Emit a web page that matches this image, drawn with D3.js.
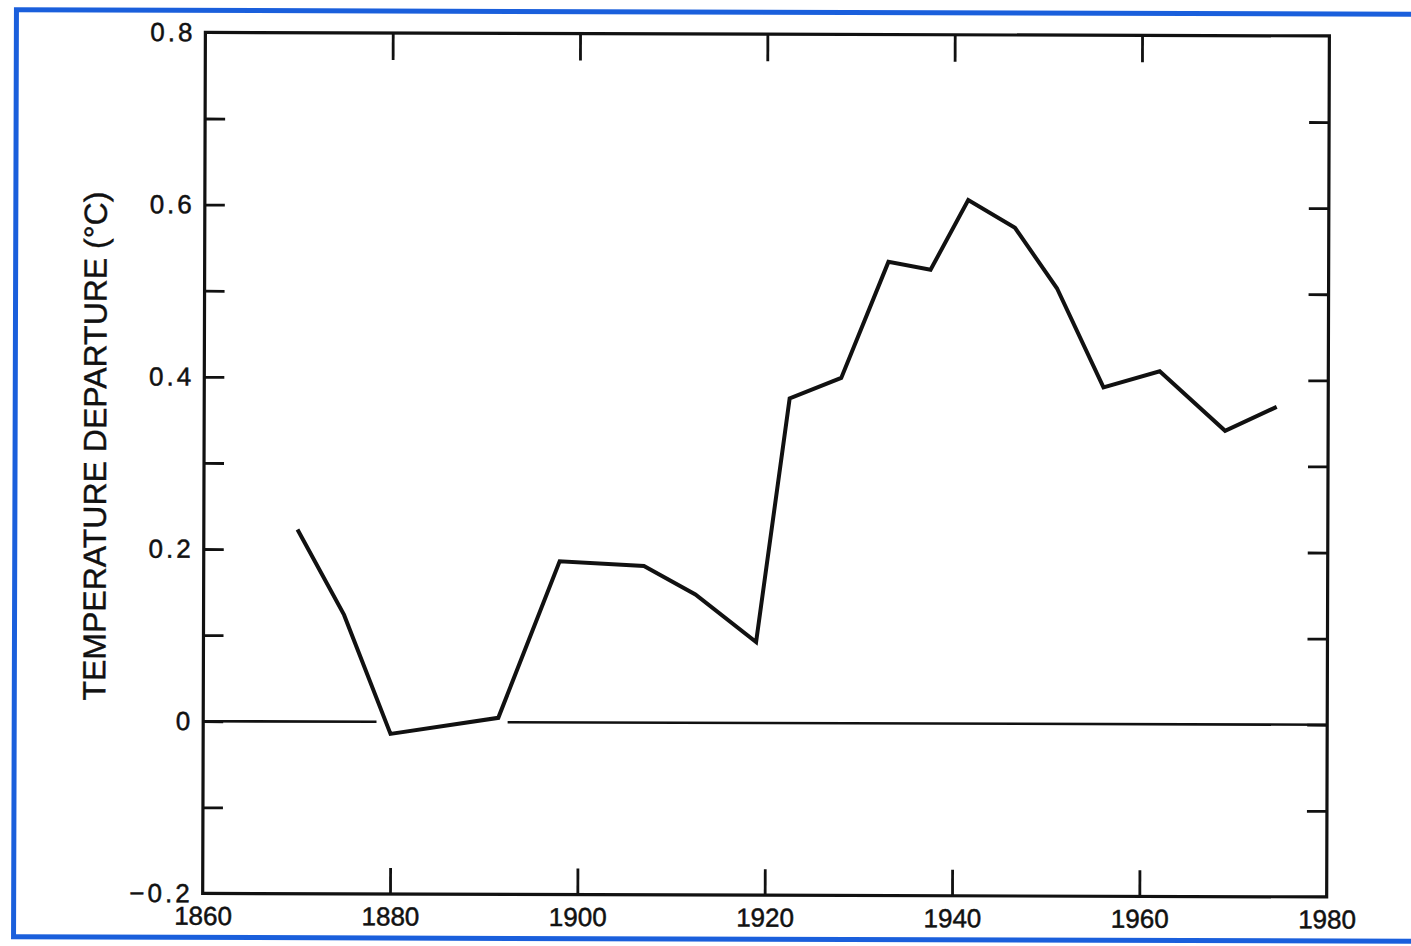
<!DOCTYPE html>
<html>
<head>
<meta charset="utf-8">
<script src="https://cdn.jsdelivr.net/npm/d3@7"></script>
<style>
  body { margin: 0; background: #fff; }
  svg { display: block; font-family: "Liberation Sans", Arial, sans-serif; }
</style>
</head>
<body>
<svg width="1411" height="946"></svg>
<script>
// temperature departure
const years = [1870, 1875, 1880, 1891.5, 1898, 1907, 1912.5, 1919, 1922.5, 1928, 1933, 1937.5, 1941.5, 1946.5, 1951, 1956, 1962, 1969, 1974.5]
const temps = [0.223, 0.124, -0.014, 0.005, 0.187, 0.182, 0.149, 0.094, 0.377, 0.401, 0.536, 0.527, 0.608, 0.576, 0.506, 0.391, 0.410, 0.341, 0.369]

const xTicks = [1860, 1880, 1900, 1920, 1940, 1960, 1980]
const xInner = [1880, 1900, 1920, 1940, 1960]
const yMinor = [-0.1, 0, 0.1, 0.2, 0.3, 0.4, 0.5, 0.6, 0.7]
const yLabelVals = [-0.2, 0, 0.2, 0.4, 0.6, 0.8]
const yLabels = ["\u22120.2", "0", "0.2", "0.4", "0.6", "0.8"]
// zero line is broken where the curve dips under it
const zeroGap = [1878.5, 1892.5]

const svg = d3.select("svg")

// the scan is a touch skewed
const page = svg.append("g")
  .attr("transform", "rotate(0.18, 706, 473)")

page.append("rect")
  .attr("x", 15).attr("y", 12)
  .attr("width", 1430).attr("height", 927)
  .attr("fill", "none")
  .attr("stroke", "#1a5fdc")
  .attr("stroke-width", 5)

const x = d3.scaleLinear().domain([1860, 1980]).range([204, 1328])
const y = d3.scaleLinear().domain([-0.2, 0.8]).range([895, 34])

const g = page.append("g")

// inward ticks
g.append("g").attr("transform", `translate(${x(1860)},0)`)
  .call(d3.axisLeft(y).tickValues(yMinor).tickSize(-20).tickFormat(""))
g.append("g").attr("transform", `translate(${x(1980)},0)`)
  .call(d3.axisRight(y).tickValues(yMinor).tickSize(-20).tickFormat(""))
g.append("g").attr("transform", `translate(0,${y(0.8)})`)
  .call(d3.axisTop(x).tickValues(xInner).tickSize(-27).tickFormat(""))
g.append("g").attr("transform", `translate(0,${y(-0.2)})`)
  .call(d3.axisBottom(x).tickValues(xInner).tickSize(-26).tickFormat(""))

g.selectAll(".domain").remove()
g.selectAll(".tick line").attr("stroke", "#111").attr("stroke-width", 2.8)

// labels
const yl = g.append("g").attr("transform", `translate(${x(1860)},0)`)
  .call(d3.axisLeft(y).tickValues(yLabelVals).tickSize(0).tickPadding(10)
    .tickFormat((d, i) => yLabels[i]))
yl.select(".domain").remove()
yl.selectAll("text").attr("font-size", 26).attr("letter-spacing", 3)
  .attr("font-family", null).attr("fill", "#111")
  .attr("stroke", "#111").attr("stroke-width", 0.5)

const xl = g.append("g").attr("transform", `translate(0,${y(-0.2)})`)
  .call(d3.axisBottom(x).tickValues(xTicks).tickSize(0).tickPadding(13))
xl.select(".domain").remove()
xl.selectAll("text").attr("font-size", 26).attr("font-family", null).attr("fill", "#111")
  .attr("stroke", "#111").attr("stroke-width", 0.5)
  .text(d => d)

// zero line
g.selectAll("line.zero")
  .data([[1860, zeroGap[0]], [zeroGap[1], 1980]])
  .enter().append("line")
  .attr("class", "zero")
  .attr("x1", d => x(d[0])).attr("x2", d => x(d[1]))
  .attr("y1", y(0)).attr("y2", y(0))
  .attr("stroke", "#111").attr("stroke-width", 2.6)

// frame
g.append("rect")
  .attr("x", x(1860)).attr("y", y(0.8))
  .attr("width", x(1980) - x(1860)).attr("height", y(-0.2) - y(0.8))
  .attr("fill", "none").attr("stroke", "#111").attr("stroke-width", 3.2)

// curve
const line = d3.line()
  .x((d, i) => x(years[i]))
  .y(d => y(d))

g.append("path")
  .datum(temps)
  .attr("d", line)
  .attr("fill", "none")
  .attr("stroke", "#111")
  .attr("stroke-width", 4)
  .attr("stroke-linejoin", "miter")

// axis title
g.append("text")
  .attr("transform", `translate(106, 448) rotate(-90)`)
  .attr("text-anchor", "middle")
  .attr("font-size", 32)
  .attr("fill", "#111")
  .attr("stroke", "#111").attr("stroke-width", 0.4)
  .text("TEMPERATURE DEPARTURE (\u00B0C)")
</script>
</body>
</html>
